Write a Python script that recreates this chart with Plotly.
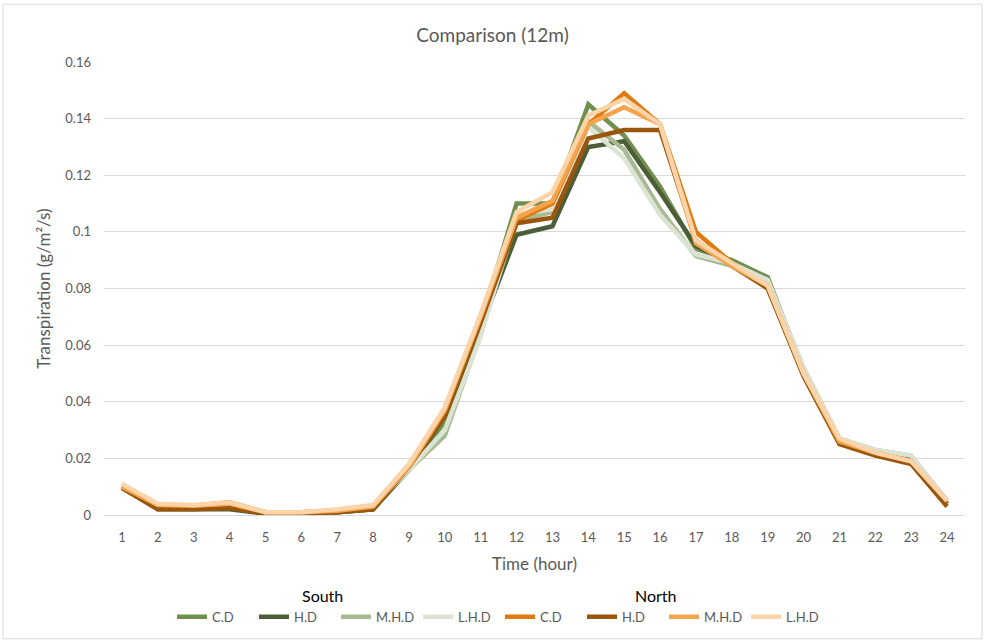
import plotly.graph_objects as go

hours = list(range(1, 25))

south_cd  = [0.010, 0.003, 0.003, 0.003, 0.001, 0.001, 0.001, 0.002, 0.016, 0.033, 0.068, 0.110, 0.110, 0.145, 0.134, 0.116, 0.094, 0.090, 0.084, 0.051, 0.026, 0.022, 0.020, 0.004]
south_hd  = [0.010, 0.002, 0.002, 0.002, 0.0005, 0.0005, 0.001, 0.002, 0.016, 0.035, 0.066, 0.099, 0.102, 0.130, 0.132, 0.114, 0.095, 0.089, 0.083, 0.050, 0.026, 0.022, 0.020, 0.004]
south_mhd = [0.011, 0.003, 0.003, 0.003, 0.001, 0.001, 0.0015, 0.003, 0.016, 0.028, 0.064, 0.104, 0.107, 0.139, 0.129, 0.108, 0.0915, 0.088, 0.083, 0.052, 0.027, 0.023, 0.021, 0.005]
south_lhd = [0.011, 0.003, 0.003, 0.003, 0.001, 0.001, 0.0015, 0.003, 0.016, 0.030, 0.063, 0.106, 0.108, 0.137, 0.126, 0.106, 0.092, 0.089, 0.083, 0.052, 0.027, 0.023, 0.021, 0.005]
north_cd  = [0.010, 0.0035, 0.0033, 0.0045, 0.001, 0.001, 0.0015, 0.003, 0.017, 0.036, 0.070, 0.104, 0.110, 0.138, 0.149, 0.138, 0.100, 0.089, 0.080, 0.050, 0.026, 0.022, 0.019, 0.004]
north_hd  = [0.0095, 0.002, 0.002, 0.0025, 0.0005, 0.0005, 0.001, 0.002, 0.017, 0.035, 0.068, 0.103, 0.105, 0.133, 0.136, 0.136, 0.097, 0.088, 0.080, 0.049, 0.025, 0.021, 0.018, 0.003]
north_mhd = [0.010, 0.0035, 0.0033, 0.004, 0.001, 0.001, 0.0015, 0.003, 0.017, 0.037, 0.070, 0.105, 0.111, 0.138, 0.144, 0.138, 0.096, 0.088, 0.081, 0.050, 0.026, 0.022, 0.019, 0.005]
north_lhd = [0.011, 0.004, 0.0035, 0.0045, 0.001, 0.001, 0.002, 0.0035, 0.018, 0.038, 0.071, 0.107, 0.114, 0.141, 0.147, 0.138, 0.097, 0.089, 0.081, 0.050, 0.027, 0.022, 0.019, 0.005]

series_names = ["C.D", "H.D", "M.H.D", "L.H.D", "C.D", "H.D", "M.H.D", "L.H.D"]
series_data = [south_cd, south_hd, south_mhd, south_lhd, north_cd, north_hd, north_mhd, north_lhd]
series_colors = ["#70904f", "#4b5e37", "#a8ba93", "#dce3d3",
                 "#e07b12", "#9a560d", "#f5a44c", "#fbd4aa"]

FONT = "Lato"
GREY = "#595959"

fig = go.Figure()
for name, data, color in zip(series_names, series_data, series_colors):
    fig.add_trace(go.Scatter(
        x=hours, y=data, name=name, mode="lines",
        line=dict(color=color, width=4.5),
    ))

fig.update_layout(
    width=985, height=643,
    margin=dict(l=104, r=20, t=62, b=127),
    paper_bgcolor="white", plot_bgcolor="white",
    font=dict(family=FONT, color=GREY, size=13),
    title=dict(text="Comparison (12m)", x=0.5, xanchor="center",
               y=1 - 35 / 643, yanchor="middle",
               font=dict(family=FONT, size=19, color=GREY)),
    showlegend=True,
    legend=dict(orientation="h", x=(500 - 104) / 861, xanchor="center",
                y=-0.222, yanchor="middle",
                font=dict(family=FONT, size=13, color=GREY),
                itemwidth=30, entrywidth=37, entrywidthmode="pixels",
                tracegroupgap=0, bgcolor="rgba(0,0,0,0)"),
    xaxis=dict(range=[0.5, 24.5], tickmode="array", tickvals=hours,
               ticktext=[str(h) for h in hours], showgrid=False,
               showline=True, linecolor="#d9d9d9", linewidth=1, ticks="",
               zeroline=False, ticklabelstandoff=10,
               tickfont=dict(family=FONT, size=13, color=GREY),
               title=dict(text="Time (hour)", standoff=14,
                          font=dict(family=FONT, size=17, color=GREY))),
    yaxis=dict(range=[0, 0.16], dtick=0.02, tick0=0, showgrid=True,
               gridcolor="#d9d9d9", gridwidth=1, zeroline=False,
               showline=False, ticks="", ticklabelstandoff=12,
               tickfont=dict(family=FONT, size=13, color=GREY),
               title=dict(text="Transpiration (g/m²/s)", standoff=10,
                          font=dict(family=FONT, size=17, color=GREY))),
)

fig.add_annotation(text="South", xref="paper", yref="paper", x=(322 - 104) / 861,
                   y=-0.178, showarrow=False, xanchor="center", yanchor="middle",
                   font=dict(family=FONT, size=16, color="#000000"))
fig.add_annotation(text="North", xref="paper", yref="paper", x=(656 - 104) / 861,
                   y=-0.178, showarrow=False, xanchor="center", yanchor="middle",
                   font=dict(family=FONT, size=16, color="#000000"))

fig.add_shape(type="rect", xref="paper", yref="paper",
              x0=(3 - 104) / 861, x1=(982 - 104) / 861,
              y0=(516 - 640) / 454, y1=(516 - 4) / 454,
              line=dict(color="#d9d9d9", width=1), fillcolor="rgba(0,0,0,0)", layer="below")

fig.write_html("out.html")
